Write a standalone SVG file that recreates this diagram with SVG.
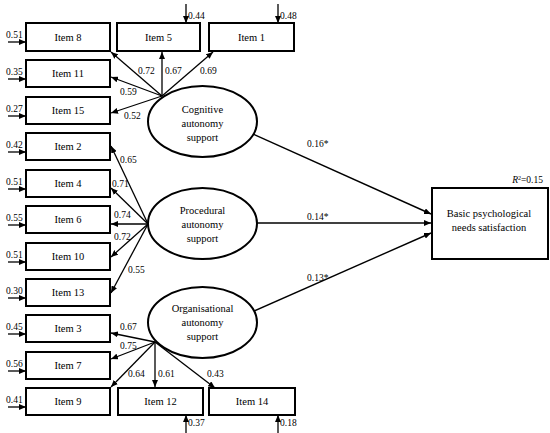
<svg xmlns="http://www.w3.org/2000/svg" width="550" height="433" viewBox="0 0 550 433" font-family="'Liberation Serif', 'Times New Roman', 'DejaVu Serif', serif">
<defs>
<marker id="ah" markerUnits="userSpaceOnUse" markerWidth="8" markerHeight="6" refX="7" refY="3" orient="auto">
<path d="M0,0 L7,3 L0,6 Z" fill="#000"/>
</marker>
<style>
.box{fill:#fff;stroke:#000;stroke-width:2}
.ell{fill:#fff;stroke:#000;stroke-width:2}
.lbl{font-family:'Liberation Serif','Times New Roman','DejaVu Serif',serif;font-size:10.5px;fill:#000;text-anchor:middle;dominant-baseline:central}
.num{font-family:'Liberation Serif','Times New Roman','DejaVu Serif',serif;font-size:9.5px;fill:#000}
.c{stroke:#000;stroke-width:1.3;fill:none;marker-end:url(#ah)}
.s{stroke:#000;stroke-width:1.4;fill:none;marker-end:url(#ah)}
</style>
</defs>
<rect width="550" height="433" fill="#fff"/>
<g id="connectors">
<line class="c" x1="162" y1="96" x2="111" y2="52"/>
<line class="c" x1="162" y1="96" x2="162" y2="52"/>
<line class="c" x1="162" y1="96" x2="213" y2="52"/>
<line class="c" x1="162" y1="96" x2="111" y2="77"/>
<line class="c" x1="162" y1="96" x2="111" y2="113"/>
<line class="c" x1="148" y1="224" x2="111" y2="146"/>
<line class="c" x1="148" y1="224" x2="111" y2="188"/>
<line class="c" x1="148" y1="224" x2="111" y2="224"/>
<line class="c" x1="148" y1="224" x2="111" y2="257"/>
<line class="c" x1="148" y1="224" x2="111" y2="293"/>
<line class="c" x1="155" y1="342" x2="111" y2="333"/>
<line class="c" x1="155" y1="342" x2="111" y2="359"/>
<line class="c" x1="155" y1="342" x2="111" y2="387"/>
<line class="c" x1="155" y1="342" x2="155" y2="387"/>
<line class="c" x1="155" y1="342" x2="215" y2="388"/>
<line class="s" x1="253" y1="134" x2="431" y2="214"/>
<line class="s" x1="257" y1="223" x2="431" y2="223"/>
<line class="s" x1="254" y1="311" x2="431" y2="233"/>
<line class="c" x1="8" y1="42" x2="26" y2="42"/>
<line class="c" x1="8" y1="79" x2="26" y2="79"/>
<line class="c" x1="8" y1="116" x2="26" y2="116"/>
<line class="c" x1="8" y1="152" x2="26" y2="152"/>
<line class="c" x1="8" y1="189" x2="26" y2="189"/>
<line class="c" x1="8" y1="225" x2="26" y2="225"/>
<line class="c" x1="8" y1="262" x2="26" y2="262"/>
<line class="c" x1="8" y1="298" x2="26" y2="298"/>
<line class="c" x1="8" y1="334" x2="26" y2="334"/>
<line class="c" x1="8" y1="371" x2="26" y2="371"/>
<line class="c" x1="8" y1="407" x2="26" y2="407"/>
<line class="c" x1="186" y1="4" x2="186" y2="23"/>
<line class="c" x1="278" y1="4" x2="278" y2="23"/>
<line class="c" x1="186" y1="433" x2="186" y2="415"/>
<line class="c" x1="278" y1="433" x2="278" y2="415"/>
</g>
<g id="loadings" class="num">
<text x="138" y="74">0.72</text>
<text x="165" y="74">0.67</text>
<text x="200" y="74">0.69</text>
<text x="120" y="95">0.59</text>
<text x="124" y="119">0.52</text>
<text x="120" y="163">0.65</text>
<text x="112" y="187">0.71</text>
<text x="114" y="218">0.74</text>
<text x="114" y="240">0.72</text>
<text x="128" y="273">0.55</text>
<text x="120" y="330">0.67</text>
<text x="120" y="349">0.75</text>
<text x="128" y="377">0.64</text>
<text x="158" y="377">0.61</text>
<text x="207" y="377">0.43</text>
<text x="307" y="147">0.16*</text>
<text x="307" y="220">0.14*</text>
<text x="307" y="281">0.13*</text>
</g>
<g id="errors" class="num">
<text x="6" y="38">0.51</text>
<text x="6" y="75">0.35</text>
<text x="6" y="112">0.27</text>
<text x="6" y="148">0.42</text>
<text x="6" y="185">0.51</text>
<text x="6" y="221">0.55</text>
<text x="6" y="258">0.51</text>
<text x="6" y="294">0.30</text>
<text x="6" y="330">0.45</text>
<text x="6" y="367">0.56</text>
<text x="6" y="403">0.41</text>
<text x="188" y="19">0.44</text>
<text x="280" y="19">0.48</text>
<text x="188" y="426">0.37</text>
<text x="280" y="426">0.18</text>
</g>
<g id="item8"><rect class="box" x="26" y="23" width="84" height="28"/><text class="lbl" x="68" y="37">Item 8</text></g>
<g id="item11"><rect class="box" x="26" y="60" width="84" height="27"/><text class="lbl" x="68" y="73.5">Item 11</text></g>
<g id="item15"><rect class="box" x="26" y="97" width="84" height="27"/><text class="lbl" x="68" y="110.5">Item 15</text></g>
<g id="item2"><rect class="box" x="26" y="133" width="84" height="27"/><text class="lbl" x="68" y="146.5">Item 2</text></g>
<g id="item4"><rect class="box" x="26" y="170" width="84" height="27"/><text class="lbl" x="68" y="183.5">Item 4</text></g>
<g id="item6"><rect class="box" x="26" y="206" width="84" height="27"/><text class="lbl" x="68" y="219.5">Item 6</text></g>
<g id="item10"><rect class="box" x="26" y="243" width="84" height="27"/><text class="lbl" x="68" y="256.5">Item 10</text></g>
<g id="item13"><rect class="box" x="26" y="279" width="84" height="27"/><text class="lbl" x="68" y="292.5">Item 13</text></g>
<g id="item3"><rect class="box" x="26" y="315" width="84" height="27"/><text class="lbl" x="68" y="328.5">Item 3</text></g>
<g id="item7"><rect class="box" x="26" y="352" width="84" height="27"/><text class="lbl" x="68" y="365.5">Item 7</text></g>
<g id="item9"><rect class="box" x="26" y="388" width="84" height="27"/><text class="lbl" x="68" y="401.5">Item 9</text></g>
<g id="item5"><rect class="box" x="117" y="23" width="83" height="28"/><text class="lbl" x="158.5" y="37">Item 5</text></g>
<g id="item1"><rect class="box" x="209" y="23" width="85" height="28"/><text class="lbl" x="251.5" y="37">Item 1</text></g>
<g id="item12"><rect class="box" x="118" y="388" width="85" height="27"/><text class="lbl" x="160.5" y="401.5">Item 12</text></g>
<g id="item14"><rect class="box" x="209" y="388" width="86" height="27"/><text class="lbl" x="252" y="401.5">Item 14</text></g>
<g id="cognitive"><ellipse class="ell" cx="202.5" cy="121.5" rx="54.5" ry="35.5"/>
<text class="lbl" x="202.5" y="109">Cognitive</text><text class="lbl" x="202.5" y="123">autonomy</text><text class="lbl" x="202.5" y="137">support</text></g>
<g id="procedural"><ellipse class="ell" cx="202.5" cy="223.5" rx="54.5" ry="35.5"/>
<text class="lbl" x="202.5" y="210">Procedural</text><text class="lbl" x="202.5" y="224">autonomy</text><text class="lbl" x="202.5" y="238">support</text></g>
<g id="organisational"><ellipse class="ell" cx="202.5" cy="322.5" rx="54.5" ry="35.5"/>
<text class="lbl" x="202.5" y="308">Organisational</text><text class="lbl" x="202.5" y="322">autonomy</text><text class="lbl" x="202.5" y="336">support</text></g>
<g id="bpns"><rect class="box" x="432" y="188" width="116" height="71"/>
<text class="lbl" x="489" y="213">Basic psychological</text><text class="lbl" x="489" y="227">needs satisfaction</text>
<text class="num" x="543" y="183" text-anchor="end"><tspan font-style="italic">R</tspan><tspan font-size="6" dy="-3">2</tspan><tspan dy="3">=0.15</tspan></text></g>
</svg>
